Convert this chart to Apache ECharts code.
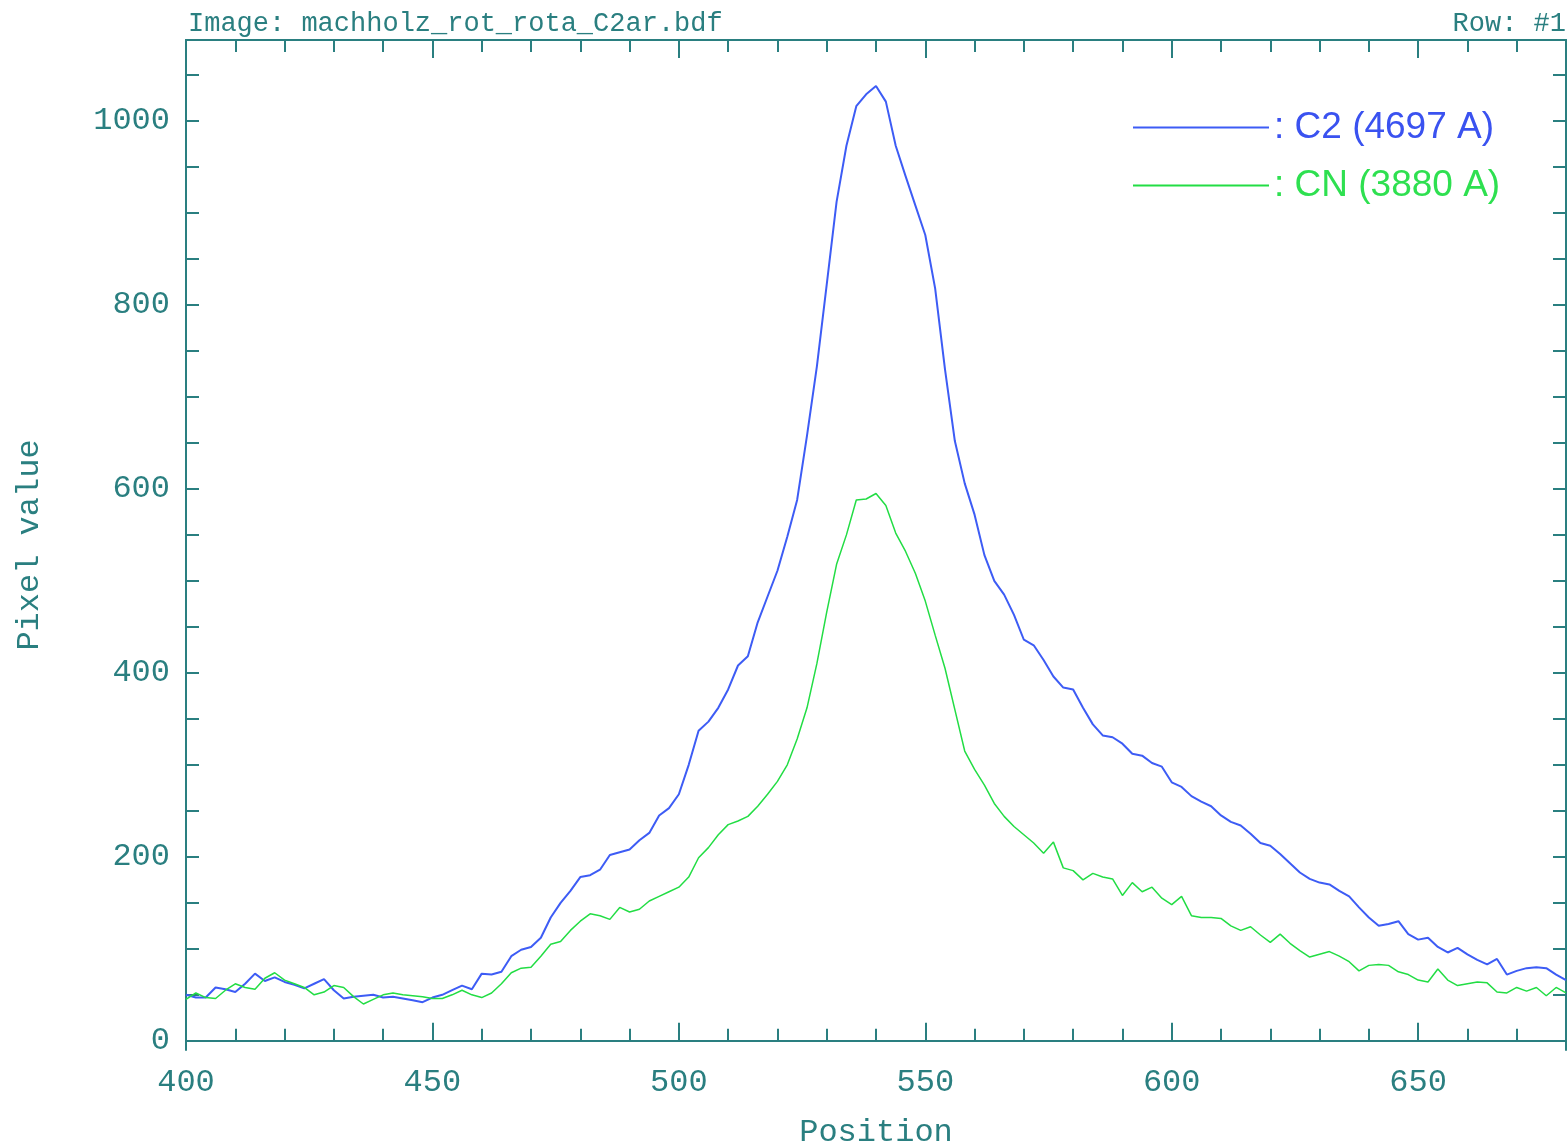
<!DOCTYPE html>
<html>
<head>
<meta charset="utf-8">
<script src="https://cdn.jsdelivr.net/npm/echarts@6/dist/echarts.min.js"></script>
<style>
  html, body { margin: 0; padding: 0; background: #fff; }
  #myLine { width: 1568px; height: 1146px; }
</style>
</head>
<body>
<div id="myLine"></div>
<script>
var positions = [
  400, 402, 404, 406, 408, 410, 412, 414, 416, 418, 420, 422, 424, 426, 428, 430, 432, 434, 436, 438,
  440, 442, 444, 446, 448, 450, 452, 454, 456, 458, 460, 462, 464, 466, 468, 470, 472, 474, 476, 478,
  480, 482, 484, 486, 488, 490, 492, 494, 496, 498, 500, 502, 504, 506, 508, 510, 512, 514, 516, 518,
  520, 522, 524, 526, 528, 530, 532, 534, 536, 538, 540, 542, 544, 546, 548, 550, 552, 554, 556, 558,
  560, 562, 564, 566, 568, 570, 572, 574, 576, 578, 580, 582, 584, 586, 588, 590, 592, 594, 596, 598,
  600, 602, 604, 606, 608, 610, 612, 614, 616, 618, 620, 622, 624, 626, 628, 630, 632, 634, 636, 638,
  640, 642, 644, 646, 648, 650, 652, 654, 656, 658, 660, 662, 664, 666, 668, 670, 672, 674, 676, 678,
  680
];

// C2 (4697 A)
var c2Values = [
  50, 47, 47, 58, 56, 53, 62, 73, 65, 69, 64, 61, 57, 62, 67, 55, 46, 48, 49, 50,
  47, 48, 46, 44, 42, 47, 50, 55, 60, 56, 73, 72, 75, 92, 99, 102, 112, 134, 150, 163,
  178, 180, 186, 202, 205, 208, 218, 226, 245, 253, 268, 300, 337, 347, 362, 382, 408, 418, 455, 483,
  511, 548, 588, 658, 733, 822, 912, 973, 1016, 1029, 1038, 1021, 973, 940, 908, 876, 818, 730, 652, 606,
  572, 528, 500, 485, 463, 436, 430, 414, 396, 384, 382, 362, 344, 332, 330, 323, 312, 310, 302, 298,
  281, 276, 266, 260, 255, 245, 238, 234, 225, 215, 212, 203, 193, 183, 176, 172, 170, 163, 157, 145,
  134, 125, 127, 130, 116, 110, 112, 102, 96, 101, 94, 88, 83, 89, 72, 76, 79, 80, 79, 72,
  66
];

// CN (3880 A)
var cnValues = [
  45, 52, 47, 46, 55, 62, 58, 56, 68, 74, 66, 62, 58, 50, 53, 60, 58, 48, 40, 45,
  50, 52, 50, 49, 48, 46, 46, 50, 55, 50, 47, 52, 62, 74, 79, 80, 92, 105, 108, 120,
  130, 138, 136, 132, 145, 140, 143, 152, 157, 162, 167, 178, 199, 210, 224, 235, 239, 244, 255, 268,
  282, 300, 328, 362, 410, 466, 518, 550, 588, 589, 595, 582, 552, 532, 508, 478, 441, 405, 360, 315,
  295, 278, 258, 244, 233, 224, 215, 204, 216, 188, 185, 175, 182, 178, 176, 158, 172, 162, 167, 155,
  148, 157, 136, 134, 134, 133, 125, 120, 124, 115, 107, 116, 106, 98, 91, 94, 97, 92, 86, 76,
  82, 83, 82, 75, 72, 66, 64, 78, 66, 60, 62, 64, 63, 53, 52, 58, 54, 58, 49, 58,
  52
];

var xMinorTicks = [410, 420, 430, 440, 460, 470, 480, 490, 510, 520, 530, 540, 560, 570, 580, 590, 610, 620, 630, 640, 660, 670];
var xMajorTicks = [450, 500, 550, 600, 650];
var xLabels = [400, 450, 500, 550, 600, 650];
var yTicks = [0, 50, 100, 150, 200, 250, 300, 350, 400, 450, 500, 550, 600, 650, 700, 750, 800, 850, 900, 950, 1000, 1050];
var yLabels = [0, 200, 400, 600, 800, 1000];

var axisColor = '#2a7f80';
var monoFont = 'Liberation Mono';

function plainNumber(v) {
    return String(v);
}

function xAxisDef(pos, ticks, len, labels) {
    return {
        type: 'value',
        position: pos,
        min: 400,
        max: 680,
        axisLine: { show: true, lineStyle: { color: axisColor, width: 2 } },
        axisTick: { show: true, inside: true, length: len, customValues: ticks,
            lineStyle: { color: axisColor, width: 2 } },
        axisLabel: labels ? {
            show: true, customValues: labels, margin: 17, formatter: plainNumber,
            fontFamily: monoFont, fontSize: 32, color: axisColor
        } : { show: false },
        splitLine: { show: false }
    };
}

function yAxisDef(pos, labels) {
    return {
        type: 'value',
        position: pos,
        min: -10,
        max: 1088,
        axisLine: { show: true, lineStyle: { color: axisColor, width: 2 } },
        axisTick: { show: true, inside: true, length: 13, customValues: yTicks,
            lineStyle: { color: axisColor, width: 2 } },
        axisLabel: labels ? {
            show: true, customValues: labels, margin: 16, formatter: plainNumber,
            fontFamily: monoFont, fontSize: 32, color: axisColor
        } : { show: false },
        splitLine: { show: false }
    };
}

var dom = document.getElementById('myLine');
var myChart = echarts.init(dom);

var xBottom = xAxisDef('bottom', xMajorTicks, 18, xLabels);
xBottom.name = 'Position';
xBottom.nameLocation = 'middle';
xBottom.nameGap = 67;
xBottom.nameTextStyle = { fontFamily: monoFont, fontSize: 32, color: axisColor };

var yLeft = yAxisDef('left', yLabels);
yLeft.name = 'Pixel value';
yLeft.nameLocation = 'middle';
yLeft.nameGap = 140;
yLeft.nameTextStyle = { fontFamily: monoFont, fontSize: 32, color: axisColor };

var option = {
    animation: false,
    backgroundColor: '#fff',
    grid: { left: 186, top: 40, right: 2, bottom: 96, containLabel: false, outerBoundsMode: 'none' },
    graphic: [
        { type: 'text', left: 188, top: 10,
          style: { text: 'Image: machholz_rot_rota_C2ar.bdf', font: '27px "Liberation Mono"', fill: axisColor } },
        { type: 'text', right: 2, top: 10,
          style: { text: 'Row: #1', font: '27px "Liberation Mono"', fill: axisColor } }
    ],
    legend: {
        orient: 'vertical',
        left: 1128,
        top: 104,
        itemWidth: 136,
        itemHeight: 14,
        itemGap: 21,
        icon: 'path://M0,6 L136,6 L136,8 L0,8 Z',
        formatter: ': {name}',
        textStyle: { fontFamily: 'Liberation Sans', fontSize: 37 },
        data: [
            { name: 'C2 (4697 A)', textStyle: { color: '#3a52f0' } },
            { name: 'CN (3880 A)', textStyle: { color: '#2ee050' } }
        ]
    },
    xAxis: [
        xAxisDef('bottom', xMinorTicks, 12, null),
        xBottom,
        xAxisDef('top', xMinorTicks, 12, null),
        xAxisDef('top', xMajorTicks, 18, null)
    ],
    yAxis: [
        yLeft,
        yAxisDef('right', null)
    ],
    series: [
        {
            name: 'C2 (4697 A)',
            type: 'line',
            xAxisIndex: 0,
            yAxisIndex: 0,
            showSymbol: false,
            symbol: 'none',
            color: '#3d5cf5',
            lineStyle: { width: 2, color: '#3d5cf5' },
            data: positions.map(function (p, i) { return [p, c2Values[i]]; })
        },
        {
            name: 'CN (3880 A)',
            type: 'line',
            xAxisIndex: 0,
            yAxisIndex: 0,
            showSymbol: false,
            symbol: 'none',
            color: '#22dd44',
            lineStyle: { width: 1.5, color: '#22dd44' },
            data: positions.map(function (p, i) { return [p, cnValues[i]]; })
        }
    ]
};

myChart.setOption(option, true);
</script>
</body>
</html>
